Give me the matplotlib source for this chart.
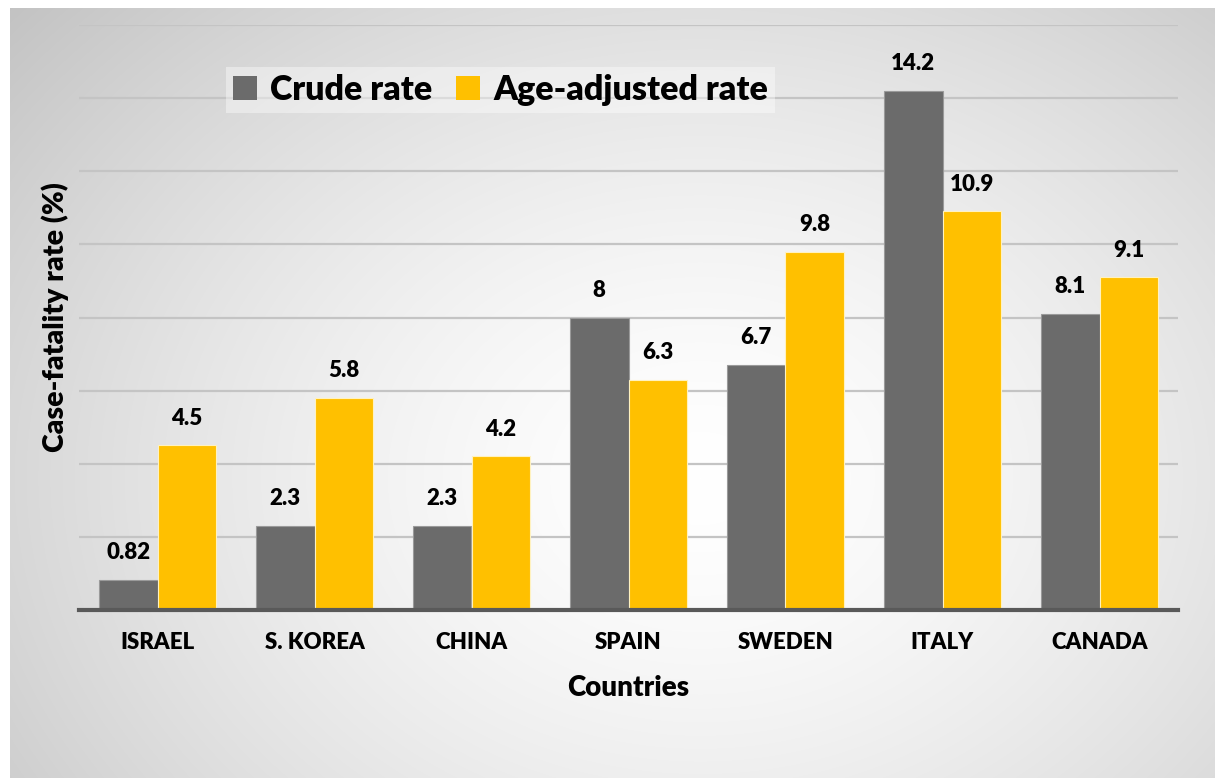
import numpy as np
import matplotlib.pyplot as plt
from matplotlib.patches import Patch

# 국가별 치명률 데이터
countries = ['ISRAEL', 'S. KOREA', 'CHINA', 'SPAIN', 'SWEDEN', 'ITALY', 'CANADA']
crude_rate = [0.82, 2.3, 2.3, 8, 6.7, 14.2, 8.1]
age_adjusted_rate = [4.5, 5.8, 4.2, 6.3, 9.8, 10.9, 9.1]
crude_labels = ['0.82', '2.3', '2.3', '8', '6.7', '14.2', '8.1']
adjusted_labels = ['4.5', '5.8', '4.2', '6.3', '9.8', '10.9', '9.1']

plt.rcParams['font.family'] = ['Lato', 'DejaVu Sans']
FW = 'heavy'

W, H = 1217, 778
fig = plt.figure(figsize=(W / 100, H / 100), dpi=100)
fig.patch.set_facecolor('white')

# 배경 - 가운데가 밝은 방사형 그라데이션
bg = fig.add_axes([10 / W, 0, 1205 / W, 770 / H])
yy, xx = np.mgrid[0:770, 0:1205]
r = np.sqrt(((xx - 690) / 820) ** 2 + ((yy - 470) / 640) ** 2)
shade = np.clip(1.0 - 0.2 * r ** 1.5, 0, 1)
bg.imshow(np.dstack([shade] * 3), aspect='auto', interpolation='bilinear')
bg.axis('off')

ax = fig.add_axes([79 / W, (H - 610) / H, 1099 / W, 585 / H])
ax.set_facecolor('none')

x = np.arange(len(countries))
w = 0.373
b1 = ax.bar(x - w / 2, crude_rate, w, color='#6b6b6b', edgecolor='#9a9a9a', linewidth=0.8, zorder=3)
b2 = ax.bar(x + w / 2, age_adjusted_rate, w, color='#ffc000', edgecolor='#fff2c0', linewidth=0.8, zorder=3)

# 막대 위 값 표시
for rect, txt in zip(b1, crude_labels):
    ax.annotate(txt, (rect.get_x() + rect.get_width() / 2, rect.get_height()),
                xytext=(0, 12), textcoords='offset points', ha='center', va='bottom',
                fontsize=16, fontweight=FW, color='black')
for rect, txt in zip(b2, adjusted_labels):
    ax.annotate(txt, (rect.get_x() + rect.get_width() / 2, rect.get_height()),
                xytext=(0, 12), textcoords='offset points', ha='center', va='bottom',
                fontsize=16, fontweight=FW, color='black')

ax.set_xlim(-0.5, len(countries) - 0.5)
ax.set_ylim(0, 16)
ax.set_yticks(np.arange(2, 17, 2))
ax.set_yticklabels([])
ax.tick_params(axis='y', length=0)
ax.grid(axis='y', color='#c4c4c4', linewidth=1.6, zorder=0)

ax.set_xticks(x)
ax.set_xticklabels(countries, fontsize=16, fontweight=FW)
ax.tick_params(axis='x', length=0, pad=16)

for s in ['top', 'right', 'left']:
    ax.spines[s].set_visible(False)
ax.spines['bottom'].set_color('#595959')
ax.spines['bottom'].set_linewidth(3)
ax.spines['bottom'].set_zorder(4)

ax.set_xlabel('Countries', fontsize=20, fontweight=FW, labelpad=16)
ax.set_ylabel('Case-fatality rate (%)', fontsize=20.5, fontweight=FW, labelpad=4)

handles = [Patch(facecolor='#6b6b6b', label='Crude rate'),
           Patch(facecolor='#ffc000', label='Age-adjusted rate')]
leg = fig.legend(handles=handles, loc='upper left', bbox_to_anchor=(226 / W, 1 - 67 / H),
                 ncol=2, fontsize=24.5, frameon=True, fancybox=False,
                 handlelength=0.7, handleheight=0.7, handletextpad=0.4,
                 columnspacing=0.7, borderpad=0.2, borderaxespad=0)
leg.get_frame().set_facecolor('white')
leg.get_frame().set_alpha(0.4)
leg.get_frame().set_edgecolor('none')
for t in leg.get_texts():
    t.set_fontweight(FW)

plt.savefig('out.png', dpi=100)
